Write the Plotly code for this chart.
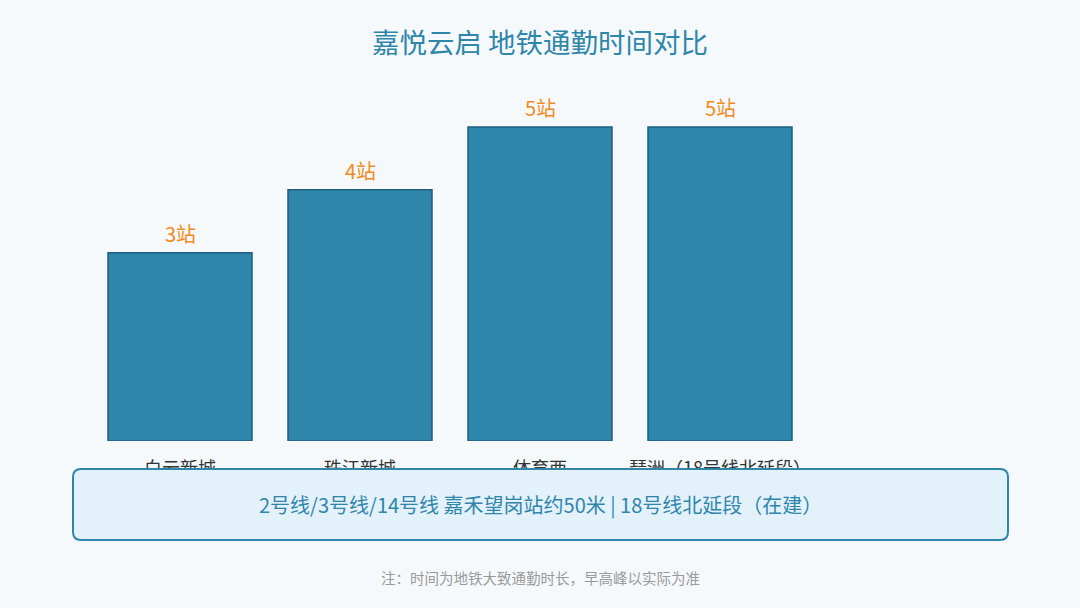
import plotly.graph_objects as go

categories = ["白云新城", "珠江新城", "体育西", "琶洲（18号线北延段）"]
stations = [3, 4, 5, 5]
value_labels = [f"{v}站" for v in stations]

title_text = "嘉悦云启 地铁通勤时间对比"
box_text = "2号线/3号线/14号线 嘉禾望岗站约50米 | 18号线北延段（在建）"
note_text = "注：时间为地铁大致通勤时长，早高峰以实际为准"

W, H = 1080, 608
ML, MR, MT, MB = 90, 270, 80, 167
FONT = "Noto Sans CJK SC, Noto Sans, sans-serif"
BG = "#f5f9fc"

fig = go.Figure()
fig.add_trace(go.Bar(
    x=categories, y=stations,
    marker=dict(color="#2e86ab", line=dict(color="#1f5f80", width=1.5)),
    width=0.8, hoverinfo="skip",
))

for c, v, t in zip(categories, stations, value_labels):
    fig.add_annotation(x=c, y=v, text=t, showarrow=False, yanchor="bottom",
                       yshift=3, font=dict(size=20, color="#f18a1c", family=FONT))

pw, ph = W - ML - MR, H - MT - MB
def px2paper(x, y):
    return (x - ML) / pw, (H - MB - y) / ph

x0, y0, x1, y1, r = 73, 469, 1008, 540, 8
def P(x, y):
    a, b = px2paper(x, y)
    return f"{a:.5f},{b:.5f}"
path = (f"M {P(x0 + r, y0)} L {P(x1 - r, y0)} Q {P(x1, y0)} {P(x1, y0 + r)} "
        f"L {P(x1, y1 - r)} Q {P(x1, y1)} {P(x1 - r, y1)} "
        f"L {P(x0 + r, y1)} Q {P(x0, y1)} {P(x0, y1 - r)} "
        f"L {P(x0, y0 + r)} Q {P(x0, y0)} {P(x0 + r, y0)} Z")
fig.add_shape(type="path", path=path, xref="paper", yref="paper",
              fillcolor="#e3f1fb", line=dict(color="#2e86ab", width=2), layer="above")

bx, by = px2paper((x0 + x1) / 2, (y0 + y1) / 2)
fig.add_annotation(x=bx, y=by, xref="paper", yref="paper", text=box_text, showarrow=False,
                   xanchor="center", yanchor="middle",
                   font=dict(size=20, color="#2e86ab", family=FONT))

nx, ny = px2paper(540, 577)
fig.add_annotation(x=nx, y=ny, xref="paper", yref="paper", text=note_text,
                   showarrow=False, font=dict(size=14.5, color="#9a9a9a", family=FONT),
                   xanchor="center", yanchor="middle")

fig.update_layout(
    width=W, height=H,
    margin=dict(l=ML, r=MR, t=MT, b=MB),
    paper_bgcolor=BG, plot_bgcolor=BG,
    title=dict(text=title_text, x=0.5, xref="container", xanchor="center",
               y=1 - 43 / H, yanchor="middle",
               font=dict(size=27.5, color="#2e86ab", family=FONT)),
    font=dict(family=FONT),
    showlegend=False,
    bargap=0.2,
)
fig.update_xaxes(showgrid=False, showline=False, zeroline=False, ticks="outside",
                 ticklen=11, tickcolor="rgba(0,0,0,0)",
                 tickfont=dict(size=18, color="#333333", family=FONT))
fig.update_yaxes(range=[0, 5.75], visible=False, showgrid=False, zeroline=False)

fig.write_html("out.html", config={"displayModeBar": False},
               post_script=f"document.body.style.margin='0';document.body.style.background='{BG}';")
